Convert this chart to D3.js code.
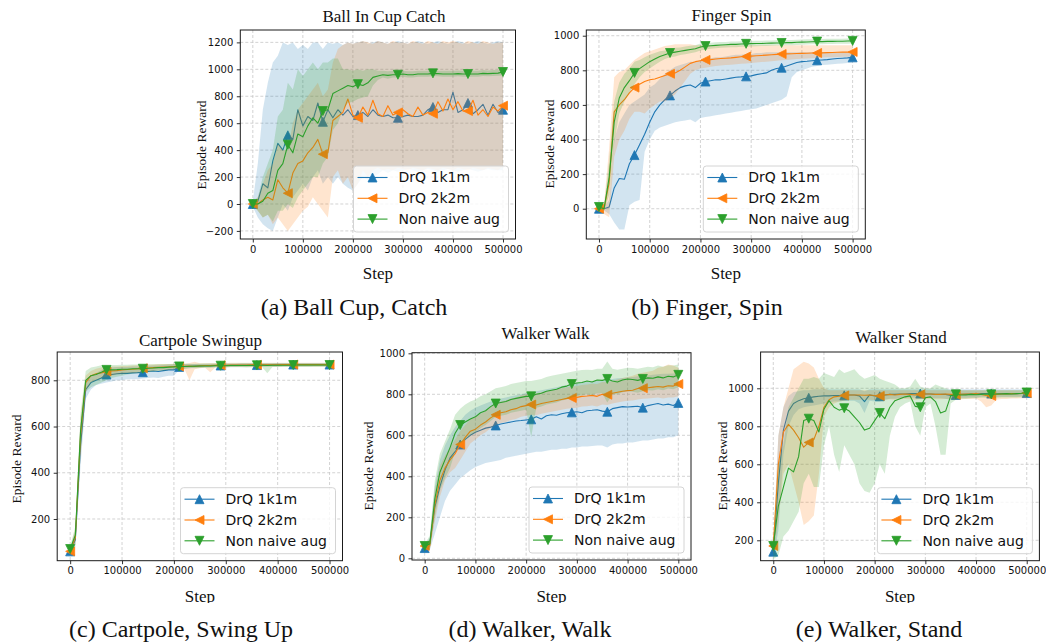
<!DOCTYPE html>
<html><head><meta charset="utf-8">
<script src="https://cdn.jsdelivr.net/npm/d3@7"></script>
<style>body{margin:0;background:#fff}svg{display:block}</style>
</head><body>
<svg id="chart" width="1046" height="643"></svg>
<script>
// ---------------- DATA ----------------
const steps = [0,10000,20000,30000,40000,50000,60000,70000,80000,90000,
 100000,110000,120000,130000,140000,150000,160000,170000,180000,190000,
 200000,210000,220000,230000,240000,250000,260000,270000,280000,290000,
 300000,310000,320000,330000,340000,350000,360000,370000,380000,390000,
 400000,410000,420000,430000,440000,450000,460000,470000,480000,490000,
 500000];
const markerSteps = [0,70000,140000,210000,290000,360000,430000,500000];
const seriesNames = ["DrQ 1k1m","DrQ 2k2m","Non naive aug"];
const xTicks = [0,100000,200000,300000,400000,500000];
const ballYTicks = [-200,0,200,400,600,800,1000,1200];
const fingerYTicks = [0,200,400,600,800,1000];
const cartYTicks = [200,400,600,800];
const walkYTicks = [0,200,400,600,800,1000];
const standYTicks = [200,400,600,800,1000];
const titles = ["Ball In Cup Catch","Finger Spin","Cartpole Swingup","Walker Walk","Walker Stand"];
const captions = ["(a) Ball Cup, Catch","(b) Finger, Spin","(c) Cartpole, Swing Up","(d) Walker, Walk","(e) Walker, Stand"];

// Ball in cup catch
const ballBlue = [0,20,150,120,320,450,400,510,480,700, 580,650,620,750,610,700,640,700,660,700, 650,660,680,650,700,660,650,660,640,640, 650,660,650,650,660,700,720,680,700,700, 830,680,700,750,670,700,740,660,740,680, 700];
const ballBlueLo = [-20,-100,-150,-180,-200,-100,0,-50,50,100, 150,100,200,250,150,200,150,200,150,120, 100,150,200,180,200,220,250,230,250,240, 250,260,250,240,250,260,250,240,250,260, 250,240,250,260,250,240,250,260,250,250, 250];
const ballBlueHi = [20,300,700,900,1050,1100,1200,1180,1200,1150, 1180,1150,1200,1200,1150,1200,1190,1200,1180,1200, 1190,1200,1210,1190,1200,1210,1200,1190,1200,1210, 1200,1190,1200,1210,1200,1190,1200,1210,1200,1190, 1200,1210,1200,1190,1200,1210,1200,1190,1200,1210, 1200];
const ballOrange = [0,0,30,50,30,180,120,80,230,300, 320,380,420,480,370,380,620,650,680,780, 660,640,720,660,770,670,650,730,660,680, 700,670,650,720,660,680,670,760,690,780, 700,760,690,690,770,660,700,650,720,690, 730];
const ballOrangeLo = [-10,-50,-100,-80,-150,-100,-150,-200,-150,-100, -50,-20,50,0,-50,-100,200,250,150,200, 100,150,250,200,250,270,250,260,250,270, 260,250,270,260,250,270,260,250,270,260, 250,270,260,250,270,260,250,270,260,250, 280];
const ballOrangeHi = [10,50,150,250,300,450,400,400,600,700, 750,800,850,900,800,850,1050,1150,1180,1200, 1190,1200,1210,1200,1190,1210,1200,1190,1210,1200, 1200,1190,1210,1200,1190,1210,1200,1190,1210,1200, 1210,1200,1190,1210,1200,1190,1210,1200,1190,1200, 1200];
const ballGreen = [0,0,20,80,100,250,300,440,380,520, 500,580,640,600,690,700,820,840,860,880, 870,890,880,900,940,950,960,955,960,960, 965,960,960,965,965,965,970,968,965,965, 965,968,965,965,965,965,970,968,970,972, 980];
const ballGreenLo = [-10,-50,-100,-80,-130,-50,-50,0,-30,50, 100,150,200,200,300,350,550,600,700,750, 760,780,790,800,880,920,940,930,940,940, 945,940,940,945,945,945,950,948,945,945, 945,948,945,945,945,945,950,948,950,952, 955];
const ballGreenHi = [10,50,200,300,400,650,700,900,850,1000, 950,1000,1050,1000,1050,1050,1080,1080,1000,1000, 990,1000,990,1000,1000,990,990,985,990,990, 990,985,985,990,990,990,995,990,990,990, 990,992,990,990,990,990,995,992,995,995, 1000];

// Finger spin
const fingerBlue = [0,0,10,120,175,170,260,310,370,430, 500,560,600,630,655,680,700,710,715,700, 725,735,740,745,745,750,755,760,762,765, 768,775,780,785,800,810,815,825,835,845, 850,852,855,858,860,862,865,868,870,872, 875];
const fingerBlueLo = [-5,-10,-30,-80,-120,-120,20,40,50,330, 400,450,470,480,490,500,505,510,515,500, 525,530,535,540,545,550,555,560,565,570, 575,580,590,600,610,620,630,650,760,790, 800,810,820,825,830,832,835,838,840,842, 845];
const fingerBlueHi = [5,10,50,400,500,550,600,620,640,660, 700,720,750,780,800,820,830,840,850,850, 860,865,870,875,875,880,885,890,890,895, 895,900,900,905,905,905,905,905,905,905, 905,905,905,905,905,905,905,905,905,905, 905];
const fingerOrange = [0,0,150,560,600,630,670,700,720,735, 745,750,760,770,780,785,800,820,840,850, 855,860,862,865,868,870,872,875,878,880, 882,884,886,888,890,892,894,895,896,897, 898,899,900,900,901,902,903,904,905,905, 906];
const fingerOrangeLo = [-5,-30,-50,300,400,450,520,560,560,550, 580,600,620,620,640,660,700,740,780,800, 810,815,820,825,828,830,832,835,838,840, 842,845,848,850,852,855,858,860,862,865, 867,868,870,872,874,875,876,877,878,879, 880];
const fingerOrangeHi = [5,30,350,760,790,800,830,860,880,900, 910,920,930,940,945,950,950,950,950,945, 945,945,945,945,945,945,945,945,945,945, 945,945,945,945,945,945,945,945,945,945, 945,945,945,945,945,945,945,945,945,945, 945];
const fingerGreen = [10,0,180,500,640,700,740,785,810,830, 850,865,880,890,900,905,910,915,920,925, 935,940,942,944,946,948,950,950,952,953, 954,955,955,956,957,958,958,960,960,962, 963,964,965,966,966,967,967,968,968,969, 970];
const fingerGreenLo = [0,-10,80,380,550,620,670,720,760,790, 810,830,850,865,875,880,888,893,898,905, 915,920,925,928,930,932,934,934,936,937, 938,939,940,941,942,943,943,945,945,947, 948,949,950,951,951,952,952,953,953,954, 955];
const fingerGreenHi = [20,10,280,620,730,780,810,850,860,875, 890,900,910,915,925,930,932,937,942,945, 955,960,960,962,963,964,966,966,968,969, 970,971,971,972,973,974,974,975,975,977, 978,979,980,981,981,982,982,983,983,984, 985];

// Cartpole swingup
const cartBlue = [60,110,520,760,790,800,810,825,825,828, 830,830,832,833,835,838,840,838,842,845, 845,858,860,860,862,862,863,863,864,864, 864,865,865,865,865,866,866,866,866,866, 866,867,867,868,867,867,867,868,868,868, 868];
const cartBlueLo = [50,80,430,720,760,780,785,790,795,800, 800,805,805,805,808,810,812,810,815,820, 820,845,850,852,854,855,856,856,857,857, 858,858,858,859,859,860,860,860,860,860, 860,861,861,861,861,861,861,862,862,862, 862];
const cartBlueHi = [70,150,600,800,820,830,845,855,855,858, 858,858,860,860,862,862,864,864,866,868, 868,870,870,870,871,871,872,872,872,873, 873,873,873,874,874,874,874,874,874,874, 875,875,875,875,875,875,875,875,875,875, 875];
const cartOrange = [60,120,560,790,820,828,832,838,840,842, 845,847,848,850,852,853,855,856,857,858, 860,860,861,862,860,863,864,864,865,865, 865,866,866,866,866,867,867,867,867,867, 867,868,868,868,868,868,868,868,868,868, 868];
const cartOrangeLo = [50,90,470,750,790,800,810,815,820,825, 828,830,832,834,836,838,840,842,843,845, 848,848,850,800,848,852,854,835,855,856, 856,857,857,857,858,858,858,858,859,859, 859,860,860,860,860,860,860,860,860,860, 860];
const cartOrangeHi = [70,160,640,820,840,850,855,858,860,860, 862,862,864,865,866,867,868,869,870,870, 872,872,872,875,880,874,874,875,875,875, 875,876,876,876,876,876,876,876,876,876, 876,876,876,876,876,876,876,876,876,876, 876];
const cartGreen = [70,130,580,800,820,825,835,845,845,846, 848,848,850,850,850,852,853,855,855,857, 858,860,860,861,861,862,862,862,863,863, 863,864,864,864,864,864,865,865,864,865, 865,865,865,866,866,866,866,866,866,866, 866];
const cartGreenLo = [55,90,480,750,770,780,790,800,810,815, 820,825,828,830,832,835,838,840,842,845, 848,850,850,852,852,853,854,854,855,855, 855,856,856,856,855,856,857,857,830,857, 857,857,857,858,858,858,858,858,858,858, 858];
const cartGreenHi = [80,170,660,840,855,860,865,865,866,866, 867,867,868,868,868,869,869,870,870,871, 871,872,872,872,872,873,873,873,873,873, 873,873,873,874,874,874,874,874,874,874, 874,874,874,874,874,874,874,874,874,874, 874];

// Walker walk
const walkBlue = [50,70,250,350,430,490,520,555,580,600, 615,625,635,640,648,655,660,665,670,672, 675,678,690,680,695,700,698,705,710,712, 715,710,720,722,725,718,715,730,735,740, 738,740,742,735,745,750,755,748,752,745, 758];
const walkBlueLo = [40,40,120,200,280,330,360,390,410,430, 445,455,465,470,475,480,490,495,500,505, 510,515,520,520,525,530,530,535,535,540, 540,545,545,548,550,550,540,555,560,560, 565,565,570,575,575,580,585,585,590,590, 600];
const walkBlueHi = [60,100,350,480,550,600,640,670,700,720, 735,745,755,765,770,780,785,790,795,800, 805,810,815,820,825,830,835,840,845,850, 855,860,862,865,868,870,872,875,878,880, 882,885,888,890,892,895,898,900,900,902, 905];
const walkOrange = [60,60,260,380,440,480,510,555,590,620, 630,650,665,685,700,710,715,725,730,740, 745,750,748,755,760,765,770,775,780,782, 785,790,792,795,790,800,798,805,810,815, 818,820,828,830,832,835,838,835,842,840, 850];
const walkOrangeLo = [50,40,180,300,380,420,440,480,520,560, 580,600,615,635,650,660,665,675,680,690, 695,700,698,705,710,715,720,725,730,732, 735,740,742,745,740,750,748,755,760,765, 768,770,775,778,780,782,785,780,785,785, 790];
const walkOrangeHi = [70,90,330,450,500,540,580,620,650,680, 690,705,720,740,755,765,770,780,785,795, 800,805,805,810,815,820,825,830,835,838, 840,845,848,852,850,860,860,865,872,880, 885,890,900,905,910,915,930,935,945,940, 930];
const walkGreen = [60,70,290,420,480,540,610,650,665,680, 690,710,720,740,755,760,765,775,780,785, 790,790,800,805,815,820,825,835,840,850, 855,858,865,860,870,868,875,865,860,870, 875,872,868,875,880,878,885,880,888,885, 895];
const walkGreenLo = [50,40,200,330,390,440,520,560,580,600, 615,635,650,670,690,695,700,710,715,720, 725,590,735,740,750,755,760,770,775,785, 790,795,800,795,805,805,760,800,800,810, 815,812,808,815,820,818,825,820,828,825, 835];
const walkGreenHi = [70,110,380,510,570,630,700,730,750,765, 775,790,800,815,830,835,840,850,855,860, 865,865,870,875,885,890,895,900,905,910, 915,918,920,918,925,925,960,925,920,925, 930,928,925,930,935,932,940,935,942,940, 945];

// Walker stand
const standBlue = [140,500,780,880,920,935,945,950,955,958, 960,960,962,962,963,965,965,960,930,965, 960,958,965,968,968,970,970,972,972,972, 970,970,968,968,968,962,965,968,968,970, 970,972,972,972,970,972,972,972,972,973, 975];
const standBlueLo = [100,250,650,800,860,890,900,905,910,915, 920,925,930,930,935,935,935,920,870,935, 930,930,940,945,945,948,950,950,952,952, 950,950,948,948,945,940,945,950,950,952, 952,955,955,955,955,955,955,956,956,957, 958];
const standBlueHi = [180,750,900,960,980,985,990,990,995,995, 995,995,995,995,995,995,995,995,985,995, 995,995,995,995,995,995,995,995,995,995, 995,995,995,995,995,995,995,995,995,995, 995,995,995,995,995,995,995,995,995,995, 995];
const standOrange = [170,600,770,810,780,740,690,715,730,800, 900,940,955,958,962,965,965,965,963,965, 962,960,965,968,965,968,970,968,965,968, 970,970,968,968,970,968,966,968,970,970, 972,968,962,960,968,970,970,972,972,973, 975];
const standOrangeLo = [120,300,550,600,500,400,280,300,330,550, 850,900,920,930,935,940,940,940,940,940, 938,936,940,942,940,942,944,942,940,942, 944,944,942,942,944,942,940,942,944,944, 946,930,900,910,940,944,944,946,946,947, 948];
const standOrangeHi = [200,750,900,1000,1100,1120,1140,1130,1110,1050, 1000,990,990,990,990,990,990,990,990,990, 990,990,990,990,990,990,990,990,990,990, 990,990,990,990,990,990,990,990,990,990, 990,990,990,990,990,990,990,990,990,990, 995];
const standGreen = [170,380,480,580,560,640,830,840,830,770, 890,935,900,885,895,880,850,820,780,790, 830,870,840,900,935,945,955,960,905,900, 950,955,930,870,880,960,968,965,965,968, 966,968,970,968,970,970,972,970,972,974, 978];
const standGreenLo = [100,120,220,250,300,350,500,550,480,480, 700,800,650,560,700,650,600,500,460,450, 500,600,550,750,850,900,920,930,800,750, 900,920,800,650,650,920,940,945,945,948, 948,950,950,950,950,952,952,952,952,953, 955];
const standGreenHi = [200,600,700,900,950,1000,1050,1050,1060,1050, 1080,1070,1060,1100,1080,1090,1100,1070,1050,1060, 1070,1050,1040,1030,1020,1000,1000,1010,1050,1010, 1000,1000,1020,1010,1000,990,990,990,990,990, 990,990,990,990,990,990,990,990,990,990, 995];

// ---------------- LAYOUT ----------------
const COLORS = ["#1f77b4","#ff7f0e","#2ca02c"];
const MARKERS = ["up","left","down"];
const panels = [
  {title:titles[0], caption:captions[0], yTicks:ballYTicks,
   series:[[ballBlue,ballBlueLo,ballBlueHi],[ballOrange,ballOrangeLo,ballOrangeHi],[ballGreen,ballGreenLo,ballGreenHi]],
   box:{l:240.3,r:515.5,t:30,b:239}, yDomain:[-260,1292],
   titleX:384, titleY:22, ylabelX:206, ylabelY:145, xlabelY:279, capX:354, capY:315, clipY:null},
  {title:titles[1], caption:captions[1], yTicks:fingerYTicks,
   series:[[fingerBlue,fingerBlueLo,fingerBlueHi],[fingerOrange,fingerOrangeLo,fingerOrangeHi],[fingerGreen,fingerGreenLo,fingerGreenHi]],
   box:{l:586.3,r:865.3,t:30,b:239}, yDomain:[-175,1033],
   titleX:731.5, titleY:21, ylabelX:554, ylabelY:144, xlabelY:279, capX:707, capY:315, clipY:null},
  {title:titles[2], caption:captions[2], yTicks:cartYTicks,
   series:[[cartBlue,cartBlueLo,cartBlueHi],[cartOrange,cartOrangeLo,cartOrangeHi],[cartGreen,cartGreenLo,cartGreenHi]],
   box:{l:57.2,r:342.5,t:352,b:560.7}, yDomain:[19.6,922.4],
   titleX:200.5, titleY:346, ylabelX:21, ylabelY:459, xlabelY:602, capX:181, capY:637, clipY:603},
  {title:titles[3], caption:captions[3], yTicks:walkYTicks,
   series:[[walkBlue,walkBlueLo,walkBlueHi],[walkOrange,walkOrangeLo,walkOrangeHi],[walkGreen,walkGreenLo,walkGreenHi]],
   box:{l:412,r:691,t:352.7,b:560}, yDomain:[-8.3,1003],
   titleX:545.5, titleY:339, ylabelX:373, ylabelY:466, xlabelY:602, capX:530, capY:637, clipY:603},
  {title:titles[4], caption:captions[4], yTicks:standYTicks,
   series:[[standBlue,standBlueLo,standBlueHi],[standOrange,standOrangeLo,standOrangeHi],[standGreen,standGreenLo,standGreenHi]],
   box:{l:760.6,r:1039.4,t:352,b:560.7}, yDomain:[92.6,1191],
   titleX:901, titleY:343, ylabelX:727, ylabelY:466, xlabelY:602, capX:879, capY:637, clipY:603}
];

const SERIF = "'Liberation Serif','Times New Roman',serif";
const SANS = "'DejaVu Sans',sans-serif";

function markerPath(type, s) {
  const h = s / 2;
  if (type === "up") return `M0,${-h}L${h},${h}L${-h},${h}Z`;
  if (type === "left") return `M${-h},0L${h},${-h}L${h},${h}Z`;
  return `M0,${h}L${h},${-h}L${-h},${-h}Z`;
}

const svg = d3.select("#chart");
svg.append("rect").attr("width",1046).attr("height",643).attr("fill","#fff");
const defs = svg.append("defs");

panels.forEach((p, pi) => {
  const g = svg.append("g");
  const x = d3.scaleLinear().domain([-25000, 525000]).range([p.box.l, p.box.r]);
  const y = d3.scaleLinear().domain(p.yDomain).range([p.box.b, p.box.t]);

  defs.append("clipPath").attr("id", "clip" + pi).append("rect")
    .attr("x", p.box.l).attr("y", p.box.t)
    .attr("width", p.box.r - p.box.l).attr("height", p.box.b - p.box.t);

  // grid
  const grid = g.append("g").attr("stroke", "#c8c8c8").attr("stroke-width", 0.8)
    .attr("stroke-dasharray", "3,2");
  xTicks.forEach(t => grid.append("line").attr("x1", x(t)).attr("x2", x(t))
    .attr("y1", p.box.t).attr("y2", p.box.b));
  p.yTicks.forEach(t => grid.append("line").attr("x1", p.box.l).attr("x2", p.box.r)
    .attr("y1", y(t)).attr("y2", y(t)));

  const plot = g.append("g").attr("clip-path", `url(#clip${pi})`);
  p.series.forEach((s, si) => {
    const pts = steps.map((st, i) => ({x: st, m: s[0][i], lo: s[1][i], hi: s[2][i]}));
    plot.append("path").datum(pts)
      .attr("d", d3.area().x(d => x(d.x)).y0(d => y(d.lo)).y1(d => y(d.hi)))
      .attr("fill", COLORS[si]).attr("fill-opacity", 0.2).attr("stroke", "none");
    plot.append("path").datum(pts)
      .attr("d", d3.line().x(d => x(d.x)).y(d => y(d.m)))
      .attr("fill", "none").attr("stroke", COLORS[si]).attr("stroke-width", 1.1)
      .attr("stroke-linejoin", "round");
    const mk = pts.filter(d => markerSteps.includes(d.x));
    plot.selectAll(null).data(mk).enter().append("path")
      .attr("transform", d => `translate(${x(d.x)},${y(d.m)})`)
      .attr("d", markerPath(MARKERS[si], 9))
      .attr("fill", COLORS[si]).attr("stroke", COLORS[si]).attr("stroke-width", 0.8);
  });

  // frame
  g.append("rect").attr("x", p.box.l).attr("y", p.box.t)
    .attr("width", p.box.r - p.box.l).attr("height", p.box.b - p.box.t)
    .attr("fill", "none").attr("stroke", "#1a1a1a").attr("stroke-width", 1);

  // axes
  const fmt = d3.format("d");
  const xa = g.append("g").attr("transform", `translate(0,${p.box.b})`)
    .call(d3.axisBottom(x).tickValues(xTicks).tickFormat(fmt).tickSize(3.5).tickPadding(3));
  const ya = g.append("g").attr("transform", `translate(${p.box.l},0)`)
    .call(d3.axisLeft(y).tickValues(p.yTicks).tickFormat(fmt).tickSize(3.5).tickPadding(3.5));
  [xa, ya].forEach(a => {
    a.select(".domain").remove();
    a.selectAll("line").attr("stroke", "#1a1a1a").attr("stroke-width", 0.9);
    a.selectAll("text").attr("font-family", SANS).attr("font-size", "10px").attr("fill", "#111");
  });

  // titles and labels
  g.append("text").attr("x", p.titleX).attr("y", p.titleY)
    .attr("text-anchor", "middle").attr("font-family", SERIF).attr("font-size", "17px")
    .attr("fill", "#111").text(p.title);
  g.append("text").attr("transform", `translate(${p.ylabelX},${p.ylabelY}) rotate(-90)`)
    .attr("text-anchor", "middle").attr("font-family", SERIF).attr("font-size", "13.5px")
    .attr("fill", "#111").text("Episode Reward");
  const xl = g.append("text").attr("x", (p.box.l + p.box.r) / 2).attr("y", p.xlabelY)
    .attr("text-anchor", "middle").attr("font-family", SERIF).attr("font-size", "17px")
    .attr("fill", "#111").text("Step");
  if (p.clipY) {
    defs.append("clipPath").attr("id", "xlclip" + pi).append("rect")
      .attr("x", p.box.l - 60).attr("y", p.clipY - 40).attr("width", 400).attr("height", 40);
    xl.attr("clip-path", `url(#xlclip${pi})`);
  }
  g.append("text").attr("x", p.capX).attr("y", p.capY)
    .attr("text-anchor", "middle").attr("font-family", SERIF).attr("font-size", "24px")
    .attr("fill", "#111").text(p.caption);

  // legend
  const lw = 155, lh = 66;
  const lx = p.box.r - 7 - lw, ly = p.box.b - 7 - lh;
  const lg = g.append("g").attr("transform", `translate(${lx},${ly})`);
  lg.append("rect").attr("width", lw).attr("height", lh).attr("rx", 3)
    .attr("fill", "#fff").attr("fill-opacity", 0.8).attr("stroke", "#d4d4d4").attr("stroke-width", 1);
  seriesNames.forEach((nm, si) => {
    const ry = 11.5 + si * 20.8;
    lg.append("line").attr("x1", 4).attr("x2", 34).attr("y1", ry).attr("y2", ry)
      .attr("stroke", COLORS[si]).attr("stroke-width", 1.1);
    lg.append("path").attr("transform", `translate(19,${ry})`).attr("d", markerPath(MARKERS[si], 9))
      .attr("fill", COLORS[si]).attr("stroke", COLORS[si]).attr("stroke-width", 0.8);
    lg.append("text").attr("x", 45).attr("y", ry).attr("dy", "0.35em")
      .attr("font-family", SANS).attr("font-size", "14px").attr("fill", "#111").text(nm);
  });
});
</script>
</body></html>
